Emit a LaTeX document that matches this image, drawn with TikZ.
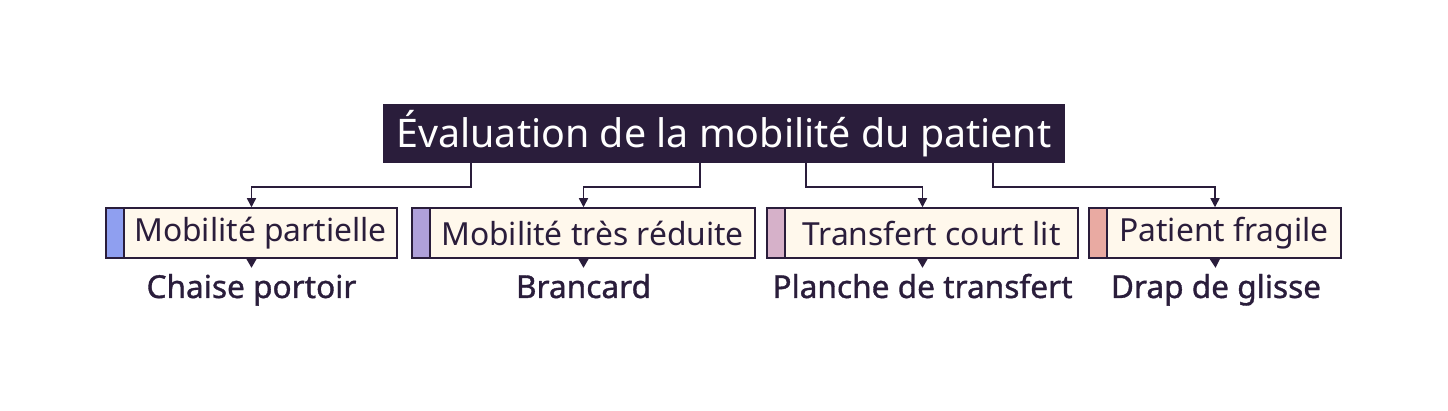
\documentclass[tikz,border=0pt]{standalone}
\usepackage{fontspec}
\setmainfont{Noto Sans}
\usetikzlibrary{arrows.meta}
\definecolor{ink}{HTML}{2A1D3B}
\definecolor{cream}{HTML}{FFF8EC}
\definecolor{sblue}{HTML}{8F9FF0}
\definecolor{spurple}{HTML}{AFA0DA}
\definecolor{spink}{HTML}{D6B1C9}
\definecolor{ssalmon}{HTML}{E9AAA2}
\tikzset{
  titlebox/.style={fill=ink, text=white, inner sep=0pt, minimum width=682pt, minimum height=59pt, font=\fontsize{39.4}{42}\selectfont},
  optbox/.style={draw=ink, line width=1.5pt, fill=cream, inner sep=0pt, minimum height=50pt},
  stripbox/.style={draw=ink, line width=1.5pt, inner sep=0pt, minimum width=18pt, minimum height=50pt, anchor=west},
  opttext/.style={text=ink, inner sep=0pt, font=\fontsize{31.8}{34}\selectfont},
  reslabel/.style={text=ink, inner sep=0pt, anchor=base, text height=21.7pt, font=\fontsize{31.6}{34}\selectfont\addfontfeatures{FakeBold=1.1}},
  conn/.style={draw=ink, line width=1.5pt, -{Triangle[width=9pt,length=9pt]}},
  tip/.style={draw=ink, line width=1.5pt, -{Triangle[width=10pt,length=9pt]}, shorten >=8.3pt},
}
\begin{document}
\begin{tikzpicture}[x=1pt,y=-1pt]
\useasboundingbox (0,0) rectangle (1448,411);
\node[titlebox] (t) at (724,133.5) {Évaluation de la mobilité du patient};

% boxes
\node[optbox, minimum width=291pt] (b1) at (251.5,233) {};
\node[stripbox, fill=sblue] (s1) at (b1.west) {};
\node[opttext] (x1) at (260.5,233) {Mobilité partielle};

\node[optbox, minimum width=343pt] (b2) at (583.5,233) {};
\node[stripbox, fill=spurple] (s2) at (b2.west) {};
\node[opttext] (x2) at (592.5,233) {Mobilité très réduite};

\node[optbox, minimum width=311pt] (b3) at (922.5,233) {};
\node[stripbox, fill=spink] (s3) at (b3.west) {};
\node[opttext] (x3) at (931.5,233) {Transfert court lit};

\node[optbox, minimum width=252pt] (b4) at (1215,233) {};
\node[stripbox, fill=ssalmon] (s4) at (b4.west) {};
\node[opttext] (x4) at (1224,233) {Patient fragile};

% labels
\node[reslabel] (l1) at (251.5,298) {Chaise portoir};
\node[reslabel] (l2) at (583.5,298) {Brancard};
\node[reslabel] (l3) at (922.5,298) {Planche de transfert};
\node[reslabel] (l4) at (1216,298) {Drap de glisse};

% connectors
\draw[conn] ([xshift=88pt]t.south west) -- ++(0,24) -| (b1.north);
\draw[conn] ([xshift=317pt]t.south west) -- ++(0,24) -| (b2.north);
\draw[conn] ([xshift=423pt]t.south west) -- ++(0,24) -| (b3.north);
\draw[conn] ([xshift=610pt]t.south west) -- ++(0,24) -| (b4.north);

\draw[tip] (b1.south) -- (l1.north);
\draw[tip] (b2.south) -- (l2.north);
\draw[tip] (b3.south) -- (l3.north);
\draw[tip] (b4.south) -- (l4.north);
\end{tikzpicture}
\end{document}
